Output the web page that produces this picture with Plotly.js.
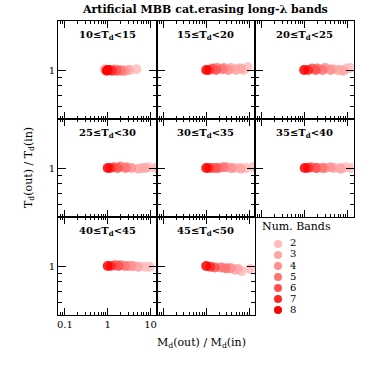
<!DOCTYPE html>
<html>
<head>
<meta charset="utf-8">
<script src="https://cdn.plot.ly/plotly-3.0.1.min.js"></script>
<style>
  body { margin: 0; background: #fff; }
  #chart { width: 374px; height: 374px; }
</style>
</head>
<body>
<div id="chart"></div>
<script>
// panel labels (Td(in) bins)
var panelLabels = [
  "10≤T<sub>d</sub><15", "15≤T<sub>d</sub><20", "20≤T<sub>d</sub><25",
  "25≤T<sub>d</sub><30", "30≤T<sub>d</sub><35", "35≤T<sub>d</sub><40",
  "40≤T<sub>d</sub><45", "45≤T<sub>d</sub><50"
];
var bandNums = [2, 3, 4, 5, 6, 7, 8];
var bandColors = ["#ffbcbc", "#ffa6a6", "#ff8f8f", "#ff7272", "#ff5050", "#ff2626", "#ff0000"];

// per panel: number of bands, Md(out)/Md(in), Td(out)/Td(in)
var band1 = [2, 2, 2, 2, 3, 3, 3, 4, 4, 4, 5, 5, 6, 6, 7, 7, 8, 8];
var md1 = [0.85, 2.2, 3.3, 4.7, 1.5, 2.6, 3.0, 0.9, 1.8, 2.4, 1.3, 2.0, 1.15, 1.6, 1.05, 1.25, 1.0, 0.95];
var td1 = [1.01, 1.0, 1.0, 1.01, 1.01, 0.99, 1.0, 1.0, 1.0, 0.99, 1.0, 0.99, 1.0, 0.99, 1.0, 0.99, 1.0, 0.99];

var band2 = [2, 2, 2, 3, 3, 3, 4, 4, 5, 5, 6, 6, 7, 8];
var md2 = [5.5, 7.5, 9.3, 3.8, 5.0, 6.5, 2.6, 3.3, 1.8, 2.4, 1.4, 1.7, 1.15, 1.0];
var td2 = [1.02, 1.0, 1.04, 1.03, 1.0, 1.02, 1.03, 1.0, 1.03, 1.01, 1.02, 1.0, 1.0, 1.0];

var band3 = [2, 2, 2, 3, 3, 3, 4, 4, 5, 5, 6, 6, 7, 8];
var md3 = [7.0, 9.5, 11.5, 4.5, 6.0, 8.0, 3.0, 4.0, 2.0, 2.6, 1.5, 1.8, 1.2, 0.97];
var td3 = [1.0, 1.02, 1.03, 1.01, 1.0, 0.99, 1.03, 1.0, 1.02, 1.0, 1.02, 1.0, 1.0, 1.0];

var band4 = [2, 2, 2, 3, 3, 4, 4, 5, 5, 6, 6, 7, 8];
var md4 = [6.5, 9.0, 13.0, 5.2, 7.5, 2.8, 3.6, 2.0, 2.6, 1.4, 1.7, 1.15, 1.0];
var td4 = [1.0, 1.01, 1.0, 0.99, 1.0, 1.01, 1.0, 1.02, 1.0, 1.01, 1.0, 1.0, 1.0];

var band5 = [2, 2, 2, 3, 3, 4, 4, 5, 5, 6, 6, 7, 8];
var md5 = [6.0, 8.5, 12.5, 4.5, 6.5, 3.0, 3.8, 2.0, 2.5, 1.4, 1.7, 1.15, 1.0];
var td5 = [1.0, 1.0, 1.01, 1.0, 0.99, 1.01, 1.0, 1.0, 1.01, 1.0, 1.0, 1.0, 1.0];

var band6 = [2, 2, 2, 3, 3, 4, 4, 5, 5, 6, 6, 7, 8];
var md6 = [6.5, 9.0, 12.0, 4.8, 7.0, 3.0, 4.0, 2.0, 2.6, 1.4, 1.8, 1.2, 1.0];
var td6 = [1.0, 1.01, 1.0, 1.0, 0.99, 1.0, 1.01, 1.0, 1.0, 1.01, 1.0, 1.0, 1.0];

var band7 = [2, 2, 2, 3, 3, 4, 4, 5, 5, 6, 6, 7, 8];
var md7 = [5.5, 7.5, 9.5, 4.0, 5.0, 3.0, 3.5, 2.0, 2.5, 1.5, 1.8, 1.2, 1.0];
var td7 = [0.99, 0.99, 0.99, 1.0, 0.99, 1.0, 1.0, 1.01, 1.0, 1.01, 1.0, 1.0, 1.0];

var band8 = [2, 2, 3, 3, 4, 4, 5, 5, 6, 7, 8];
var md8 = [6.7, 10.5, 4.8, 5.5, 3.3, 3.8, 2.2, 2.8, 1.6, 1.25, 1.0];
var td8 = [0.93, 0.96, 0.95, 0.96, 0.97, 0.97, 0.98, 0.97, 0.98, 0.99, 1.0];

var xMajor = [0.1, 1, 10];
var xMinor = [0.07, 0.08, 0.09, 0.2, 0.3, 0.4, 0.5, 0.6, 0.7, 0.8, 0.9, 2, 3, 4, 5, 6, 7, 8, 9];
var yMajor = [1];
var yMinor = [0.5, 0.6, 0.7, 0.8, 0.9, 2];

var panels = [
  [band1, md1, td1], [band2, md2, td2], [band3, md3, td3],
  [band4, md4, td4], [band5, md5, td5], [band6, md6, td6],
  [band7, md7, td7], [band8, md8, td8]
];

// layout geometry in pixels
var W = 374, H = 374;
var colEdges = [58, 156.5, 255, 353.5];
var rowEdges = [21, 119, 217, 315];
var font = "DejaVu Serif, Liberation Serif, serif";

var traces = [];
var layout = {
  width: W, height: H,
  margin: { l: 0, r: 0, t: 0, b: 0 },
  paper_bgcolor: "white", plot_bgcolor: "white",
  showlegend: false,
  font: { family: font, size: 10, color: "black" },
  annotations: []
};

panels.forEach(function (p, i) {
  var k = i + 1;
  var c = i % 3, r = Math.floor(i / 3);
  var xs = k === 1 ? "x" : "x" + k;
  var ys = k === 1 ? "y" : "y" + k;

  // draw fewer bands first so 8 bands sits on top
  bandNums.forEach(function (b, bi) {
    var x = [], y = [];
    for (var j = 0; j < p[0].length; j++) {
      if (p[0][j] === b) { x.push(p[1][j]); y.push(p[2][j]); }
    }
    traces.push({
      x: x, y: y, xaxis: xs, yaxis: ys,
      type: "scatter", mode: "markers",
      marker: { size: 10, color: bandColors[bi], opacity: 0.85, line: { width: 0 } },
      hoverinfo: "skip"
    });
  });

  layout["xaxis" + (k === 1 ? "" : k)] = {
    type: "log", range: [-1.16, 1.14],
    domain: [colEdges[c] / W, colEdges[c + 1] / W],
    anchor: ys,
    showline: true, linecolor: "black", linewidth: 1, mirror: "ticks",
    ticks: "inside", ticklen: 7, tickcolor: "black",
    tickmode: "array", tickvals: xMajor, ticktext: ["0.1", "1", "10"],
    showticklabels: i === 6,
    tickfont: { family: font, size: 10 },
    minor: { ticks: "inside", ticklen: 3, tickcolor: "black", tickmode: "array", tickvals: xMinor },
    showgrid: false, zeroline: false, fixedrange: true
  };
  layout["yaxis" + (k === 1 ? "" : k)] = {
    type: "log", range: [Math.log10(0.5), Math.log10(2)],
    domain: [1 - rowEdges[r + 1] / H, 1 - rowEdges[r] / H],
    anchor: xs,
    showline: true, linecolor: "black", linewidth: 1, mirror: "ticks",
    ticks: "inside", ticklen: 8, tickcolor: "black",
    tickmode: "array", tickvals: yMajor, ticktext: ["1"],
    showticklabels: c === 0,
    tickfont: { family: font, size: 10 },
    minor: { ticks: "inside", ticklen: 4, tickcolor: "black", tickmode: "array", tickvals: yMinor },
    showgrid: false, zeroline: false, fixedrange: true
  };

  layout.annotations.push({
    text: "<b>" + panelLabels[i] + "</b>",
    xref: "paper", yref: "paper",
    x: (colEdges[c] + colEdges[c + 1]) / 2 / W,
    y: 1 - (rowEdges[r] + 14) / H,
    showarrow: false, xanchor: "center", yanchor: "middle",
    font: { family: font, size: 10 }
  });
});

// legend panel (bottom right), drawn as its own hidden subplot
var legendIdx = bandNums.map(function (b, i) { return i; });
traces.push({
  x: bandNums.map(function () { return 23; }), y: legendIdx,
  xaxis: "x9", yaxis: "y9", type: "scatter", mode: "markers",
  marker: { size: 8, color: bandColors, line: { width: 0 } },
  hoverinfo: "skip"
});
traces.push({
  x: bandNums.map(function () { return 35; }), y: legendIdx,
  text: bandNums.map(String),
  xaxis: "x9", yaxis: "y9", type: "scatter", mode: "text",
  textposition: "middle right",
  textfont: { family: font, size: 10, color: "black" },
  hoverinfo: "skip"
});
layout.xaxis9 = {
  domain: [colEdges[2] / W, colEdges[3] / W], anchor: "y9",
  range: [0, 98.5], visible: false, fixedrange: true
};
layout.yaxis9 = {
  domain: [1 - rowEdges[3] / H, 1 - rowEdges[2] / H], anchor: "x9",
  range: [6.45, -2.45], visible: false, fixedrange: true
};
layout.annotations.push({
  text: "Num. Bands", xref: "x9", yref: "y9", x: 5, y: -1.55,
  showarrow: false, xanchor: "left", yanchor: "middle",
  font: { family: font, size: 11 }
});

// title and axis titles
layout.annotations.push({
  text: "<b>Artificial MBB cat.erasing long-λ bands</b>",
  xref: "paper", yref: "paper", x: 205 / W, y: 1 - 10 / H,
  showarrow: false, xanchor: "center", yanchor: "middle",
  font: { family: font, size: 11 }
});
layout.annotations.push({
  text: "M<sub>d</sub>(out) / M<sub>d</sub>(in)",
  xref: "paper", yref: "paper", x: 201 / W, y: 1 - 343 / H,
  showarrow: false, xanchor: "center", yanchor: "middle",
  font: { family: font, size: 11 }
});
layout.annotations.push({
  text: "T<sub>d</sub>(out) / T<sub>d</sub>(in)",
  xref: "paper", yref: "paper", x: 29 / W, y: 1 - 168 / H,
  showarrow: false, xanchor: "center", yanchor: "middle", textangle: -90,
  font: { family: font, size: 11 }
});

Plotly.newPlot("chart", traces, layout, { displayModeBar: false, staticPlot: true });
</script>
</body>
</html>
